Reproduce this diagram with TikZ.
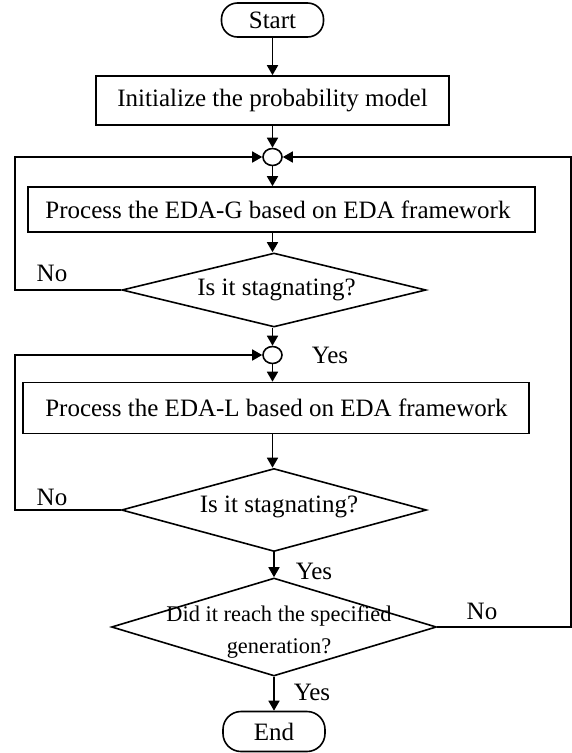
\documentclass[tikz,border=0pt]{standalone}
\usepackage{fontspec}
\setmainfont{Liberation Serif}
\usetikzlibrary{shapes.geometric,arrows.meta}
\begin{document}
\begin{tikzpicture}[x=1pt,y=-1pt, line width=1.6pt,
  font=\fontsize{25}{29}\selectfont,
  >={Triangle[length=10pt,width=11pt]},
  term/.style={draw, rectangle, inner sep=0pt, minimum width=102pt},
  proc/.style={draw, rectangle, inner sep=0pt},
  dec/.style={draw, diamond, inner sep=0pt, aspect=1},
  junc/.style={draw, ellipse, inner sep=0pt, minimum width=19pt, minimum height=17pt},
  lbl/.style={inner sep=0pt},
  arr/.style={->}]
\useasboundingbox (0,0) rectangle (572,753);

\node[term, minimum height=34pt, rounded corners=16pt] (start) at (272.5,20) {Start};
\node[proc, minimum width=353pt, minimum height=49pt] (init) at (272.5,100.5) {Initialize the probability model};
\node[junc] (c1) at (272.5,157) {};
\node[proc, minimum width=507pt, minimum height=45pt] (g) at (281.5,209.5) {};
\node[lbl] (gt) at (278,209.5) {Process the EDA-G based on EDA framework};
\node[dec, minimum width=304pt, minimum height=74pt] (d1) at (274,290) {};
\node[lbl] (d1t) at (276.5,290) {Is it stagnating?};
\node[lbl] (no1) at (52,273) {No};
\node[junc] (c2) at (272.5,355) {};
\node[lbl] (yes1) at (330,355) {Yes};
\node[proc, minimum width=506pt, minimum height=51pt] (l) at (276,408) {};
\node[lbl] (lt) at (276.5,408) {Process the EDA-L based on EDA framework};
\node[dec, minimum width=305pt, minimum height=83pt] (d2) at (274,510) {};
\node[lbl] (d2t) at (279,507) {Is it stagnating?};
\node[lbl] (no2) at (52,497) {No};
\node[lbl] (yes2) at (314,571) {Yes};
\node[dec, minimum width=325pt, minimum height=98pt] (d3) at (274,627) {};
\node[lbl, align=center, font=\fontsize{22.4}{31.6}\selectfont] (d3t) at (279,632) {Did it reach the specified\\generation?};
\node[lbl] (no3) at (482,611) {No};
\node[lbl] (yes3) at (312,692) {Yes};
\node[term, minimum height=40pt, rounded corners=18pt] (end) at (274,731.5) {End};

\coordinate (lx) at (15,0);
\coordinate (rx) at (571,0);

\draw[arr] (start.south) -- (start.south |- init.north);
\draw[arr] (init.south) -- (init.south |- c1.north);
\draw[arr] (c1.south) -- (c1.south |- g.north);
\draw[arr] (c1.south |- g.south) -- (c1.south |- d1.north);
\draw[arr] (c1.south |- d1.south) -- (c2.north);
\draw[arr] (c2.south) -- (c2.south |- l.north);
\draw[arr] (c2.south |- l.south) -- (c2.south |- d2.north);
\draw[arr] (d2.south) -- (d3.north);
\draw[arr] (d3.south) -- (end.north);
\draw[arr] (d1.west) -- (d1.west -| lx) |- (c1.west);
\draw[arr] (d2.west) -- (d2.west -| lx) |- (c2.west);
\draw[arr] (d3.east) -- (d3.east -| rx) |- (c1.east);
\end{tikzpicture}
\end{document}
